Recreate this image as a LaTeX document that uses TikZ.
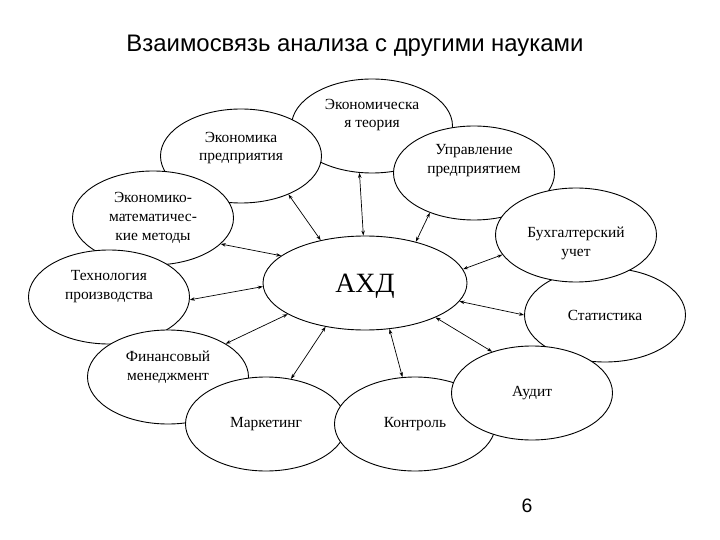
\documentclass[tikz,border=0pt]{standalone}
\usepackage{fontspec}
\setmainfont{Liberation Serif}
\newfontfamily\titlefont{Liberation Sans}
\usetikzlibrary{positioning, arrows.meta, shapes.geometric}

\tikzset{
  sci/.style={ellipse, draw, fill=white, line width=0.9bp,
              minimum width=161bp, minimum height=94bp, inner sep=0pt},
  scitxt/.style={align=center, inner sep=0pt, font=\fontsize{15.5}{19}\selectfont},
  link/.style={<->, line width=0.7bp},
}

\begin{document}
\begin{tikzpicture}[x=1bp, y=-1bp, >={Stealth[length=5bp,width=3.5bp]}]
\useasboundingbox (0,0) rectangle (720,540);

% Titre
\node[anchor=base, font=\titlefont\fontsize{24}{28}\selectfont] (title) at (355,52)
  {Взаимосвязь анализа с другими науками};

% Ellipses (ordre = superposition)
\node[sci, label={[scitxt, yshift=11bp]center:Экономическа\\я теория}] (et) at (372,126) {};
\node[sci, label={[scitxt, yshift=12bp]center:Управление\\предприятием}] (up) at (474,173) {};
\node[sci, label={[scitxt]center:Статистика}] (st) at (605,315) {};
\node[sci, label={[scitxt, yshift=-8bp]center:Бухгалтерский\\учет}] (bu) at (576,235) {};
\node[sci, label={[scitxt, yshift=8bp]center:Экономика\\предприятия}] (ep) at (241,156) {};
\node[sci, label={[scitxt]center:Экономико-\\математичес-\\кие методы}] (em) at (153,218) {};
\node[sci, label={[scitxt, yshift=10bp]center:Технология\\производства}] (tp) at (109,297) {};
\node[sci, label={[scitxt, yshift=10bp]center:Финансовый\\менеджмент}] (fm) at (168,377) {};
\node[sci, label={[scitxt]center:Маркетинг}] (mk) at (266,424) {};
\node[sci, label={[scitxt]center:Контроль}] (kt) at (415,424) {};
\node[sci, label={[scitxt]center:Аудит}] (au) at (532,393) {};

% Centre
\node[sci, minimum width=204bp,
      label={[inner sep=0pt, font=\fontsize{28}{32}\selectfont, yshift=-3bp]center:АХД}] (axd) at (365,283) {};

% Fleches
\foreach \a/\n/\b in {92/et/255, 136/ep/321, 39/up/222, 162/em/339, 182/tp/358,
                      202/fm/30, 228/mk/61, 298/kt/105, 334/au/134, 349/st/180, 8/bu/195} {
    \draw[link] (axd.\a) -- (\n.\b);
}

% Numero de page
\node[anchor=base, font=\titlefont\fontsize{19.5}{24}\selectfont] (page) at (527,512) {6};

\end{tikzpicture}
\end{document}
